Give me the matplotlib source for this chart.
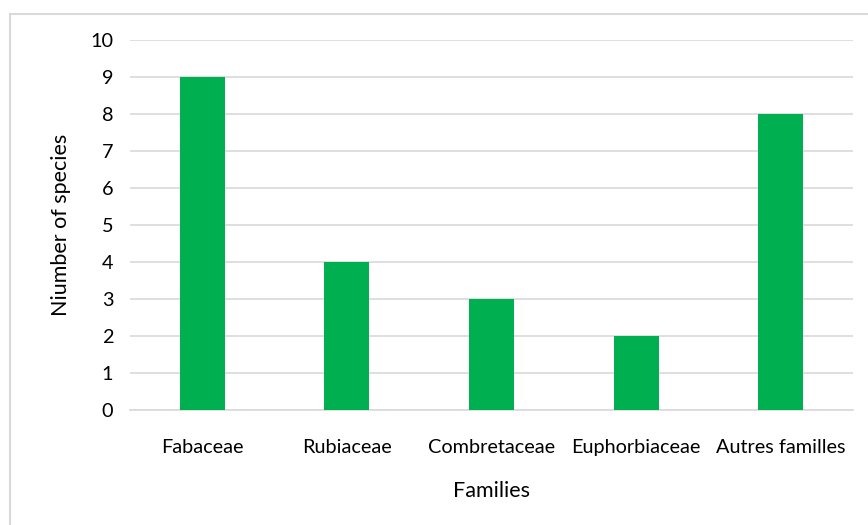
import matplotlib
matplotlib.use("Agg")
import matplotlib.pyplot as plt
from matplotlib.patches import Rectangle

families = ["Fabaceae", "Rubiaceae", "Combretaceae", "Euphorbiaceae", "Autres familles"]
species_counts = [9, 4, 3, 2, 8]
y_ticks = list(range(0, 11))

plt.rcParams["font.family"] = ["Lato", "DejaVu Sans"]

W, H = 868, 525
fig = plt.figure(figsize=(W / 100, H / 100), dpi=100)

# light outer frame of the chart area
fig.patches.append(Rectangle((10 / W, -0.01), 1.02 - 10 / W, 1.01 - 14 / H,
                             transform=fig.transFigure, fill=False,
                             edgecolor="#d9d9d9", linewidth=1.5, zorder=0))

ax = fig.add_axes([130 / W, (H - 410) / H, (853 - 130) / W, (410 - 40) / H])
x = range(len(families))
ax.bar(x, species_counts, width=0.31, color="#00b050", zorder=3)

ax.set_xlim(-0.5, len(families) - 0.5)
ax.set_ylim(0, 10)
ax.set_yticks(y_ticks)
ax.set_xticks(list(x))
ax.set_xticklabels(families)
ax.grid(axis="y", color="#d9d9d9", linewidth=1.2, zorder=0)
for side in ["top", "right", "left"]:
    ax.spines[side].set_visible(False)
ax.spines["bottom"].set_color("#d9d9d9")
ax.spines["bottom"].set_linewidth(1.2)
ax.tick_params(axis="both", length=0, labelsize=14.3, colors="black")
ax.tick_params(axis="x", pad=21)
ax.tick_params(axis="y", pad=12)

ax.set_xlabel("Families", fontsize=15.5, labelpad=18)
ax.set_ylabel("Niumber of species", fontsize=15.5, labelpad=14)

fig.savefig("out.png", dpi=100)
